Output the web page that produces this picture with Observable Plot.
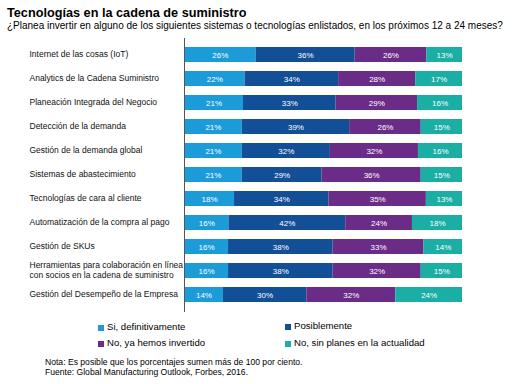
<!DOCTYPE html>
<html>
<head>
<meta charset="utf-8">
<script src="https://cdn.jsdelivr.net/npm/d3@7"></script>
<script src="https://cdn.jsdelivr.net/npm/@observablehq/plot@0.6"></script>
<style>
  html, body { margin: 0; padding: 0; background: #fff; }
  #wrap { position: relative; width: 512px; height: 384px; overflow: hidden;
          font-family: "Liberation Sans", Arial, sans-serif; color: #000; }
  .abs { position: absolute; white-space: nowrap; line-height: 1; }
  .sw { display: inline-block; width: 6px; height: 6px; margin-right: 3px; vertical-align: -1px; }
</style>
</head>
<body>
<div id="wrap">
  <div class="abs" id="title" style="left:7px; top:7.3px; font-size:12.7px; font-weight:bold;">Tecnologías en la cadena de suministro</div>
  <div class="abs" id="subtitle" style="left:7px; top:20.5px; font-size:10px;">¿Planea invertir en alguno de los siguientes sistemas o tecnologías enlistados, en los próximos 12 a 24 meses?</div>
  <div class="abs" id="chart" style="left:0; top:34px;"></div>
  <div id="legend"></div>
  <div class="abs" style="left:45px; top:357.6px; font-size:8.6px;">Nota: Es posible que los porcentajes sumen más de 100 por ciento.</div>
  <div class="abs" style="left:45px; top:367.6px; font-size:8.6px;">Fuente: Global Manufacturing Outlook, Forbes, 2016.</div>
</div>
<script>
const categories = [
  "Internet de las cosas (IoT)",
  "Analytics de la Cadena Suministro",
  "Planeación Integrada del Negocio",
  "Detección de la demanda",
  "Gestión de la demanda global",
  "Sistemas de abastecimiento",
  "Tecnologías de cara al cliente",
  "Automatización de la compra al pago",
  "Gestión de SKUs",
  "Herramientas para colaboración en línea\ncon socios en la cadena de suministro",
  "Gestión del Desempeño de la Empresa"
];
const series = ["Si, definitivamente", "Posiblemente", "No, ya hemos invertido", "No, sin planes en la actualidad"];
const colors = ["#1b9bd7", "#134f97", "#6b2c87", "#1aaea5"];
const siDef    = [26, 22, 21, 21, 21, 21, 18, 16, 16, 16, 14];
const posible  = [36, 34, 33, 39, 32, 29, 34, 42, 38, 38, 30];
const invertido= [26, 28, 29, 26, 32, 36, 35, 24, 33, 32, 32];
const sinPlan  = [13, 17, 16, 15, 16, 15, 13, 18, 14, 15, 24];
const valuesBySeries = [siDef, posible, invertido, sinPlan];

const rows = categories.flatMap((c, i) =>
  series.map((s, j) => ({cat: c, serie: s, value: valuesBySeries[j][i]})));

const font = '"Liberation Sans", Arial, sans-serif';

const plot = Plot.plot({
  width: 512,
  height: 282,
  marginLeft: 184,
  marginRight: 50,
  marginTop: 4,
  marginBottom: 4,
  style: {fontFamily: font, fontSize: "8px", background: "transparent"},
  x: {axis: null, domain: [0, 1]},
  y: {axis: null, domain: categories, padding: 0.36},
  color: {domain: series, range: colors},
  marks: [
    Plot.barX(rows, Plot.stackX({x: "value", y: "cat", fill: "serie", offset: "normalize"})),
    Plot.text(rows, Plot.stackX({x: "value", y: "cat", z: "serie", offset: "normalize",
      text: d => d.value + "%", fill: "white", fontSize: 8})),
    Plot.ruleX([0], {stroke: "#555", strokeWidth: 1}),
    Plot.text(categories, {y: d => d, text: d => d, frameAnchor: "left", textAnchor: "start",
      dx: -155, dy: -1, fontSize: 8.5, fill: "#111", lineHeight: 1.2})
  ]
});
document.getElementById("chart").appendChild(plot);

// Legend built from the plot's color scale
const cs = plot.scale("color");
const legend = document.getElementById("legend");
const pos = [
  {left: 98, top: 322},
  {left: 285, top: 320.5},
  {left: 98, top: 338},
  {left: 285, top: 337.5}
];
cs.domain.forEach((name, i) => {
  const item = document.createElement("div");
  item.className = "abs";
  item.style.left = pos[i].left + "px";
  item.style.top = pos[i].top + "px";
  item.style.fontSize = "9.6px";
  const sw = document.createElement("span");
  sw.className = "sw";
  sw.style.background = cs.range[i];
  item.appendChild(sw);
  item.appendChild(document.createTextNode(name));
  legend.appendChild(item);
});
</script>
</body>
</html>
